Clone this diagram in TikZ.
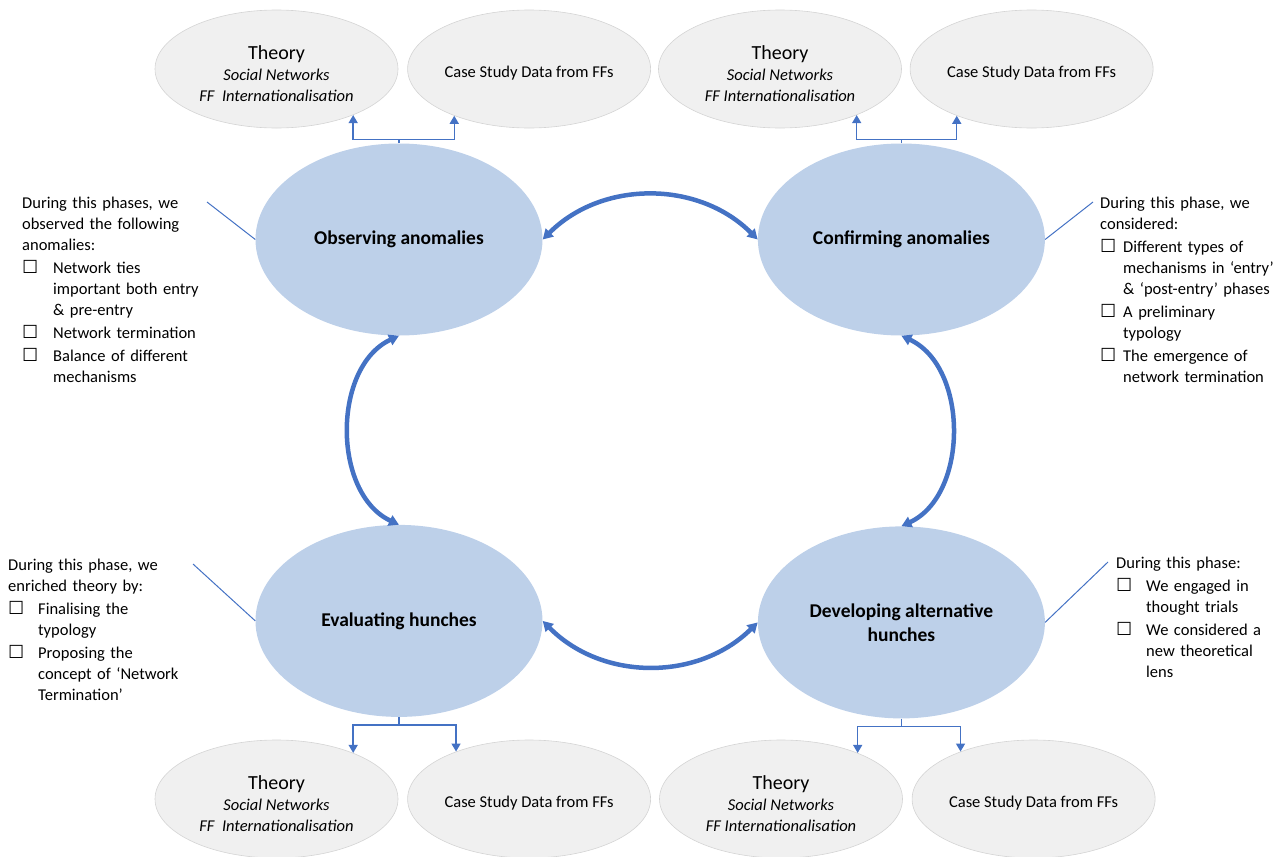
\documentclass[tikz,border=0pt]{standalone}
\usepackage{fontspec}
\setmainfont{Carlito}
\newfontfamily\boxfont{DejaVu Sans}
\usepackage{tikz}
\usetikzlibrary{positioning}
\usetikzlibrary{arrows.meta}
\usetikzlibrary{shapes.geometric}
\usepackage{xcolor}
\definecolor{phasefill}{HTML}{BDD0E9}
\definecolor{linkblue}{HTML}{4472C4}
\definecolor{srcfill}{HTML}{F0F0F0}
\definecolor{srcline}{HTML}{D4D4D4}

% checkbox item with hanging indent
\newcommand{\chk}[2][31pt]{\par\setlength{\parskip}{2pt}\hangindent=#1\hangafter=1\noindent\makebox[#1][l]{\boxfont\fontsize{18}{21}\selectfont ☐}#2}
\newcommand{\theorytitle}{\rule{0pt}{22.5pt}{\fontsize{20}{21}\selectfont Theory}}

\begin{document}
\begin{tikzpicture}[x=1pt, y=1pt,
    phase/.style={ellipse, fill=phasefill, minimum width=287pt, minimum height=192pt, inner sep=0pt, align=center, font=\bfseries\fontsize{19.5}{24}\selectfont},
    source/.style={ellipse, draw=srcline, fill=srcfill, line width=0.6pt, minimum width=243pt, minimum height=118pt, inner sep=0pt, align=center, font=\fontsize{16.5}{21}\selectfont, execute at begin node={\rule{0pt}{20pt}}},
    note/.style={anchor=base west, inner sep=0pt, text width=240pt, font=\fontsize{16.5}{21}\selectfont},
    cyc/.style={draw=linkblue, line width=4.5pt, {Triangle[length=10pt,width=11pt]}-{Triangle[length=10pt,width=11pt]}},
    feed/.style={draw=linkblue, line width=1.4pt, -{Triangle[length=8pt,width=9pt]}},
    callout/.style={draw=linkblue, line width=1pt}]
    \useasboundingbox (0,0) rectangle (1286,-857);

    % the four phases
    \node[phase] (obs) at (399,-239.5) {Observing anomalies};
    \node[phase, right=215pt of obs] (conf) {Confirming anomalies};
    \node[phase, below=189pt of obs] (eval) {Evaluating hunches};
    \node[phase, right=215pt of eval, yshift=-1.5pt] (dev) {Developing alternative\\hunches};

    % theory and data
    \node[source] (thTL) at (276.5,-69) {\theorytitle\\ \textit{Social Networks}\\ \textit{FF\ \ Internationalisation}};
    \node[source, right=9pt of thTL] (csTL) {Case Study Data from FFs};
    \node[source] (thTR) at (780,-69) {\theorytitle\\ \textit{Social Networks}\\ \textit{FF Internationalisation}};
    \node[source, right=8pt of thTR] (csTR) {Case Study Data from FFs};
    \node[source] (thBL) at (276.5,-799) {\theorytitle\\ \textit{Social Networks}\\ \textit{FF\ \ Internationalisation}};
    \node[source, right=9pt of thBL] (csBL) {Case Study Data from FFs};
    \node[source] (thBR) at (781,-799) {\theorytitle\\ \textit{Social Networks}\\ \textit{FF Internationalisation}};
    \node[source, right=9pt of thBR] (csBR) {Case Study Data from FFs};

    % cycle
    \draw[cyc] (obs.east) to[bend left=45] (conf.west);
    \draw[cyc] (conf.south) to[bend left=65] (dev.north);
    \draw[cyc] (eval.east) to[bend right=45] (dev.west);
    \draw[cyc] (obs.south) to[bend right=65] (eval.north);

    % feeds
    \draw[feed] (obs.north) -- ++(0,4) coordinate (jTL) -| (thTL.-31);
    \draw[feed] (jTL) -| (csTL.212);
    \draw[feed] (conf.north) -- ++(0,4) coordinate (jTR) -| (thTR.-31);
    \draw[feed] (jTR) -| (csTR.212);
    \draw[feed] (eval.south) -- ++(0,-8) coordinate (jBL) -| (thBL.31);
    \draw[feed] (jBL) -| (csBL.147);
    \draw[feed] (dev.south) -- ++(0,-8) coordinate (jBR) -| (thBR.31);
    \draw[feed] (jBR) -| (csBR.147);

    % notes
    \node[note] (noteTL) at (22,-208) {During this phases, we\newline observed the following\newline anomalies:
        \chk{Network ties\newline important both entry\newline \& pre-entry}
        \chk{Network termination}
        \chk{Balance of different\newline mechanisms}\par};
    \node[note] (noteTR) at (1100,-208) {During this phase, we\newline considered:
        \chk[23pt]{Different types of\newline mechanisms in ‘entry’\newline \& ‘post-entry’ phases}
        \chk[23pt]{A preliminary\newline typology}
        \chk[23pt]{The emergence of\newline network termination}\par};
    \node[note] (noteBL) at (8,-570.5) {During this phase, we\newline enriched theory by:
        \chk[30pt]{Finalising the\newline typology}
        \chk[30pt]{Proposing the\newline concept of ‘Network\newline Termination’}\par};
    \node[note] (noteBR) at (1116,-568) {During this phase:
        \chk[30pt]{We engaged in\newline thought trials}
        \chk[30pt]{We considered a\newline new theoretical\newline lens}\par};

    \coordinate (cTL) at (207,-202);
    \coordinate (cTR) at (1093,-202);
    \coordinate (cBL) at (193,-564);
    \coordinate (cBR) at (1108,-562);
    \draw[callout] (cTL) -- (obs.west);
    \draw[callout] (cTR) -- (conf.east);
    \draw[callout] (cBL) -- (eval.west);
    \draw[callout] (cBR) -- (dev.east);
\end{tikzpicture}
\end{document}
